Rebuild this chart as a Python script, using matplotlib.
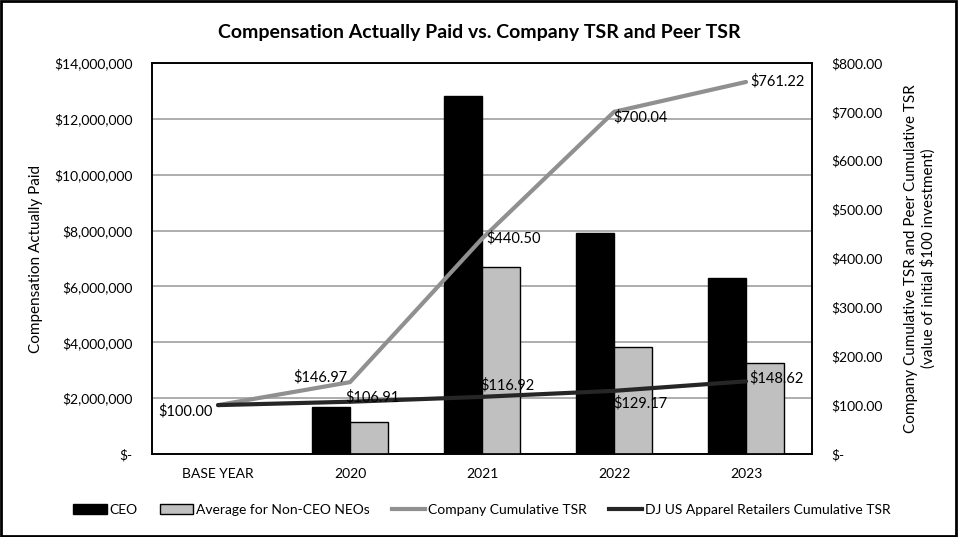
import matplotlib
matplotlib.use("Agg")
import matplotlib.pyplot as plt
from matplotlib.patches import Patch, Rectangle
from matplotlib.lines import Line2D
from matplotlib.ticker import FuncFormatter

plt.rcParams['font.family'] = ['Lato', 'DejaVu Sans']

categories = ["BASE YEAR", "2020", "2021", "2022", "2023"]
ceo_cap = [None, 1670000, 12830000, 7910000, 6300000]
neo_cap = [None, 1130000, 6700000, 3830000, 3260000]
company_tsr = [100.00, 146.97, 440.50, 700.04, 761.22]
peer_tsr = [100.00, 106.91, 116.92, 129.17, 148.62]

fig = plt.figure(figsize=(9.58, 5.37), dpi=100)
ax = fig.add_axes([0.1587, 0.1546, 0.6889, 0.7281])
ax2 = ax.twinx()

x = list(range(len(categories)))
w = 0.29
for i, (c, n) in enumerate(zip(ceo_cap, neo_cap)):
    if c is not None:
        ax.bar(i - w / 2, c, width=w, color='black', edgecolor='black', linewidth=1, zorder=3)
    if n is not None:
        ax.bar(i + w / 2, n, width=w, color='#c0c0c0', edgecolor='black', linewidth=1, zorder=3)

ax.set_xlim(-0.5, len(categories) - 0.5)
ax.set_ylim(0, 14000000)
ax.set_yticks(range(0, 14000001, 2000000))
ax.yaxis.set_major_formatter(FuncFormatter(lambda v, p: "$-" if v == 0 else f"${v:,.0f}"))
ax.set_xticks(x)
ax.set_xticklabels(categories)
ax.grid(axis='y', color='#a0a0a0', linewidth=1.2, zorder=0)
ax.set_axisbelow(True)
ax.tick_params(length=0, labelsize=10, pad=10)
ax.tick_params(axis='y', pad=14)
for s in ax.spines.values():
    s.set_linewidth(1.2)
ax.set_ylabel("Compensation Actually Paid", fontsize=11, labelpad=8)

ax2.plot(x, company_tsr, color='#909090', linewidth=3, zorder=4, solid_capstyle='round')
ax2.plot(x, peer_tsr, color='#262626', linewidth=3, zorder=4, solid_capstyle='round')
ax2.set_ylim(0, 800)
ax2.set_yticks(range(0, 801, 100))
ax2.yaxis.set_major_formatter(FuncFormatter(lambda v, p: "$-" if v == 0 else f"${v:,.2f}"))
ax2.tick_params(length=0, labelsize=10, pad=14)
ax2.set_ylabel("Company Cumulative TSR and Peer Cumulative TSR\n(value of initial $100 investment)",
               fontsize=11, labelpad=15)
for s in ax2.spines.values():
    s.set_linewidth(1.2)

fs = 10.5
comp_off = [(-5, -6, 'right'), (-30, 5, 'center'), (4, 0, 'left'), (-1, -5, 'left'), (4, 1, 'left')]
for i, (v, (dx, dy, ha)) in enumerate(zip(company_tsr, comp_off)):
    ax2.annotate(f"${v:,.2f}", (x[i], v), xytext=(dx, dy), textcoords='offset pixels',
                 ha=ha, va='center', fontsize=fs, zorder=6)
peer_off = [None, (-5, 4, 'left'), (-2, 12, 'left'), (-1, -12, 'left'), (3, 3, 'left')]
for i, (v, o) in enumerate(zip(peer_tsr, peer_off)):
    if o is None:
        continue
    dx, dy, ha = o
    ax2.annotate(f"${v:,.2f}", (x[i], v), xytext=(dx, dy), textcoords='offset pixels',
                 ha=ha, va='center', fontsize=fs, zorder=6)

fig.suptitle("Compensation Actually Paid vs. Company TSR and Peer TSR", y=0.955,
             fontsize=14, fontweight='bold')

handles = [Patch(facecolor='black', edgecolor='black'),
           Patch(facecolor='#c0c0c0', edgecolor='black'),
           Line2D([0], [0], color='#909090', linewidth=3),
           Line2D([0], [0], color='#262626', linewidth=3)]
labels = ["CEO", "Average for Non-CEO NEOs", "Company Cumulative TSR",
          "DJ US Apparel Retailers Cumulative TSR"]
fig.legend(handles, labels, loc='center', bbox_to_anchor=(0.503, 0.05), ncol=4,
           frameon=False, fontsize=10, handlelength=2.4, handletextpad=0.2,
           columnspacing=1.6)

fig.add_artist(Rectangle((0.001, 0.002), 0.997, 0.996, transform=fig.transFigure,
                         fill=False, edgecolor='black', linewidth=2))

fig.savefig("out.png", dpi=100, facecolor='white')
